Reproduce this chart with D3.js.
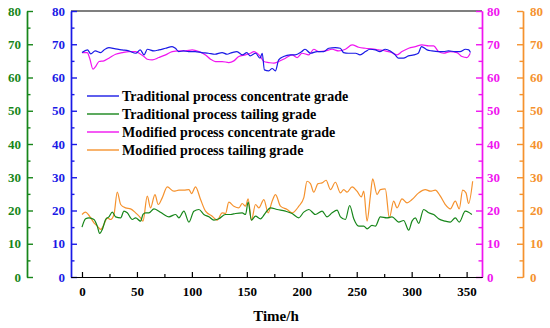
<!DOCTYPE html>
<html>
<head>
<meta charset="utf-8">
<script src="https://cdnjs.cloudflare.com/ajax/libs/d3/7.8.5/d3.min.js"></script>
<style>
  body { margin: 0; background: #fff; }
  svg text { font-family: "Liberation Serif", "Times New Roman", serif; font-weight: bold; }
</style>
</head>
<body>
<div id="chart"></div>
<script>
// [hour, grade %]
var tradConc = [[0,67.5],[5,68.3],[8,67.1],[12,68],[17,67.5],[20,68.3],[24.5,69],[30.5,68.6],[36.5,68.3],[42.5,68],[49,67.3],[53,68.3],[56.5,66.8],[59.5,68.5],[65.5,68],[70,68.3],[76,68.8],[82,69.3],[85,68.8],[88,67.8],[92.5,68],[97,67.8],[103,67.8],[109,67.5],[115,67.3],[121,67],[127.5,67.5],[132,67],[136.5,67.5],[141,67.8],[146,66.8],[150,67.5],[153,66.5],[158,67.3],[162,65.8],[164,67.3],[166,62.3],[170,62],[173,62.7],[176,62],[179,65.3],[183.5,66.3],[189.5,66.8],[194,66.8],[200,67.8],[203,68.5],[208,67.3],[214,67.8],[220,67.8],[224.5,68.8],[230.5,69],[235,68.8],[238,67.5],[242.5,67.3],[249,67.3],[253,66.8],[258,67.8],[262,68.5],[267,68.3],[271,67.8],[276,68.5],[280.5,68],[285,66.8],[288,65.8],[292.5,65.8],[297,66.5],[302,66.8],[306,67.3],[309,69.3],[314,68.3],[318.5,68],[324.5,67.8],[329,67.8],[333.5,68],[339.5,67.8],[344,67.8],[349,68.5],[352,68.3],[353.5,67.5]]
var tradTail = [[0,15],[3.3,17.5],[6.4,17.8],[10.9,17.3],[13.9,15.3],[16.1,13.1],[18.5,14.3],[21.5,17.3],[24.5,18.1],[27.6,19.5],[30.6,18.1],[35.2,17.8],[38.2,19.8],[41.2,19.3],[45.8,17.3],[48.8,17.8],[53.3,16.8],[55.5,18.8],[57.9,19.3],[60.9,19.3],[65.5,20.5],[70,19.8],[74.5,18.8],[79.1,18.1],[85.2,18.8],[88.2,17.8],[92.7,19.8],[97.3,16.5],[101.8,19.8],[106.4,20.3],[110.9,18.8],[115.5,18.1],[120,17.1],[124.5,17.5],[130.6,18.8],[135.2,18.8],[139.7,19.1],[145.8,19.3],[148.8,18.8],[151.2,22.5],[154.2,17.1],[157.9,18.3],[162.4,17.5],[167,19.3],[171.5,20.8],[177.6,20.3],[185.2,19.8],[191.2,19.1],[197.3,17.8],[201.8,19.5],[206.4,20.3],[212.4,18.8],[218.5,19.8],[223,18.1],[227.6,19.3],[232.1,20.1],[235.2,18.1],[239.7,17.3],[243.6,21.5],[247.3,17.5],[251.8,15.3],[256.4,15.3],[259.4,14.5],[263.9,15.5],[267,15.3],[271.5,18.1],[277.6,17.8],[282.1,18.1],[288.2,16.5],[292.7,17],[297.3,14.1],[300.3,16.8],[303.3,17.8],[306.4,16.1],[310.9,20.3],[315.5,19.3],[320,18.8],[324.5,17.5],[330.6,16.8],[335.2,16.5],[339.7,17.8],[343.3,16.5],[348.8,19.8],[351.8,19.5],[354.8,18.8]]
var modConc = [[0,67.5],[4.8,67.5],[7,65.8],[10,62.5],[12.4,63.3],[15.5,64.8],[20,65],[24.5,65.8],[30.6,67],[36.7,67.5],[42.7,67.8],[48.8,67.8],[53.3,67],[56.4,66.3],[59.4,65.5],[63.9,65.3],[70,66],[76.1,66.8],[82.1,67.8],[88.2,68],[94.2,68],[100.3,68.3],[106.4,67.8],[112.4,66.8],[117,65.5],[121.5,64.8],[127.6,64.8],[133.6,64.5],[138.2,65],[142.7,66.3],[148.8,66.8],[153.3,67.3],[156.4,67.8],[159.4,67.3],[162.4,66.3],[165.5,64.8],[170,64.5],[174.5,64.3],[179.1,64.8],[185.2,65.8],[191.2,66.8],[195.8,66],[200.3,67.3],[206.4,66.8],[210.9,68.5],[215.5,67.8],[221.5,68],[227.6,68.5],[233.6,68],[239.7,68.5],[245.8,69.8],[251.8,69.1],[257.9,68.8],[263.9,68.6],[270,68.3],[276,68],[282.1,67.5],[286.7,66.8],[291.2,67.8],[297.3,68.8],[303.3,69.3],[309.4,69.8],[315.5,69.5],[320,69.5],[324.5,67.8],[329.1,67.3],[335.2,67.8],[341.2,67.5],[345.8,66.3],[350.3,66],[353.3,67.3]]
var modTail = [[0,18.8],[3.3,19.5],[6.4,18.5],[10.9,16.3],[13.9,15.3],[17,14.3],[20,15.8],[23,17.8],[26.1,17.3],[29.1,18.8],[32.1,25.5],[35.2,21.8],[39.7,20.8],[44.2,20.5],[48.8,19.3],[53.3,17.8],[55.5,16.8],[59.4,24.3],[62.4,20.8],[66.4,24.8],[69.4,21.8],[73,23.8],[77.6,27.1],[83.6,25.8],[88.2,26.1],[92.7,26.1],[97.3,26.3],[99.7,25.1],[103.3,27.1],[107.9,23.3],[112.4,19.8],[118.5,18.3],[123,17.1],[127.6,19.3],[130.6,19.1],[133.6,22.5],[138.2,21.3],[142.7,20.8],[145.8,22.1],[148.8,21.3],[151.2,23.5],[154.2,17.1],[157.9,21.8],[160.9,20.8],[165.5,23.3],[169.4,19.3],[173,22.8],[176.1,24.8],[180.6,21.3],[186.7,20.3],[191.2,19.3],[197.3,21.3],[201.8,23.8],[204.8,28.8],[207.9,28.1],[210.9,25.5],[214.8,28.1],[218.5,28.3],[222.1,29.1],[226.1,26.3],[230.6,28.5],[235.2,25.3],[238.2,26.3],[241.2,25.5],[245.8,27.1],[250.3,25.8],[254.2,24.1],[256.4,25.8],[259.4,16.8],[262.4,24.3],[264.5,29.5],[268.5,24.8],[271.5,26.3],[276,26.5],[279.7,17.8],[283.6,22.8],[286.7,20.8],[291.2,23.5],[295.8,22.3],[300.3,23.3],[306.4,25.3],[312.4,26.3],[317,25.8],[321.5,26.1],[326.1,24.3],[330.6,21.8],[335.2,20.5],[339.7,22.8],[343.3,20.5],[346.4,26.1],[349.4,25.3],[351.8,22.1],[355.5,28.8]]

var seriesNames = ['Traditional process concentrate grade', 'Traditional process tailing grade',
  'Modified process concentrate grade', 'Modified process tailing grade']
var xTicks = [0, 50, 100, 150, 200, 250, 300, 350]
var yTicks = [0, 10, 20, 30, 40, 50, 60, 70, 80]

var BLUE = '#1a1ae6'
var GREEN = '#17861a'
var MAGENTA = '#f014f0'
var ORANGE = '#f5922e'

var width = 550
var height = 328
var plotLeft = 71
var plotRight = 482
var plotTop = 11
var plotBottom = 277

var svg = d3.select('#chart').append('svg')
  .attr('width', width)
  .attr('height', height)

var x = d3.scaleLinear().domain([-10, 364]).range([plotLeft, plotRight])
var y = d3.scaleLinear().domain([0, 80]).range([plotBottom, plotTop])

var line = d3.line()
  .x(function(d) { return x(d[0]) })
  .y(function(d) { return y(d[1]) })
  .curve(d3.curveMonotoneX)

// top frame line
svg.append('line')
  .attr('x1', plotLeft).attr('x2', plotRight)
  .attr('y1', plotTop).attr('y2', plotTop)
  .attr('stroke', '#000').attr('stroke-width', 1.2)

function yAxis(pos, axisFn, color, pad) {
  var minor = svg.append('g')
    .attr('transform', 'translate(' + pos + ',0)')
    .call(axisFn(y).tickValues(d3.range(5, 80, 10)).tickSize(-3.5).tickSizeOuter(0).tickFormat(''))
  var major = svg.append('g')
    .attr('transform', 'translate(' + pos + ',0)')
    .call(axisFn(y).tickValues(yTicks).tickSize(-6).tickSizeOuter(0).tickPadding(pad))
  ;[minor, major].forEach(function(g) {
    g.selectAll('path, line').attr('stroke', color).attr('stroke-width', 1.4)
    g.selectAll('text').attr('fill', color).style('font-size', '13px')
  })
}

yAxis(27, d3.axisLeft, GREEN, 6)
yAxis(plotLeft, d3.axisLeft, BLUE, 6)
yAxis(plotRight, d3.axisRight, MAGENTA, 5)
yAxis(523, d3.axisRight, ORANGE, 7)

// x axis
var xMinor = svg.append('g')
  .attr('transform', 'translate(0,' + plotBottom + ')')
  .call(d3.axisBottom(x).tickValues(d3.range(25, 360, 50)).tickSize(-3).tickSizeOuter(0).tickFormat(''))
var xMajor = svg.append('g')
  .attr('transform', 'translate(0,' + plotBottom + ')')
  .call(d3.axisBottom(x).tickValues(xTicks).tickSize(-5).tickSizeOuter(0).tickPadding(10))
;[xMinor, xMajor].forEach(function(g) {
  g.selectAll('path, line').attr('stroke', '#000').attr('stroke-width', 1.2)
  g.selectAll('text').attr('fill', '#000').style('font-size', '13px')
})

svg.append('text')
  .attr('x', 276).attr('y', 321)
  .attr('text-anchor', 'middle')
  .style('font-size', '15px')
  .text('Time/h')

// lines
var series = [
  { data: tradConc, color: BLUE },
  { data: tradTail, color: GREEN },
  { data: modConc, color: MAGENTA },
  { data: modTail, color: ORANGE }
]

// tailings first, then concentrate on top
svg.append('g').selectAll('path')
  .data([series[3], series[1], series[2], series[0]])
  .enter().append('path')
  .attr('d', function(d) { return line(d.data) })
  .attr('fill', 'none')
  .attr('stroke', function(d) { return d.color })
  .attr('stroke-width', 1.2)

// legend
var legend = svg.append('g').selectAll('g')
  .data(series)
  .enter().append('g')
  .attr('transform', function(d, i) { return 'translate(87,' + (96 + i * 18) + ')' })

legend.append('line')
  .attr('x1', 0).attr('x2', 32)
  .attr('stroke', function(d) { return d.color })
  .attr('stroke-width', 1.4)

legend.append('text')
  .attr('x', 35).attr('dy', '0.33em')
  .style('font-size', '14px')
  .text(function(d, i) { return seriesNames[i] })
</script>
</body>
</html>
